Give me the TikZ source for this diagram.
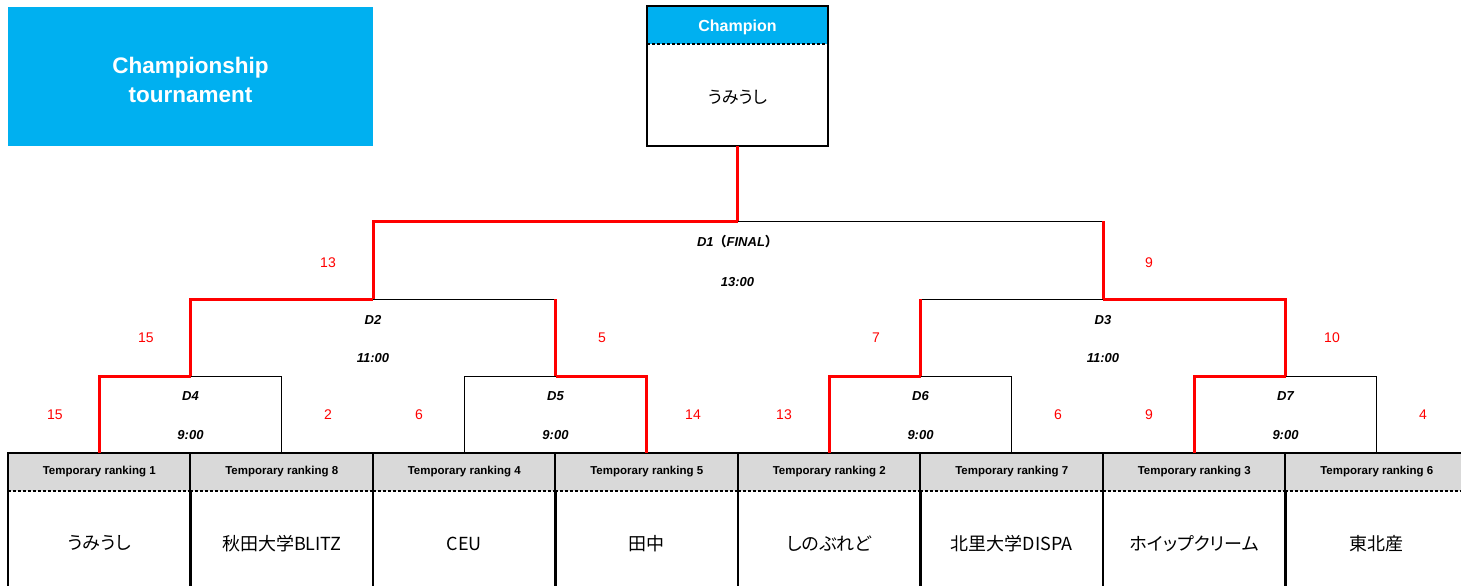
\documentclass[tikz,border=0pt]{standalone}
\usepackage{fontspec}
\setmainfont{Liberation Sans}
\newfontfamily\cjk[RawFeature=+palt]{Noto Sans CJK JP}
\newfontfamily\cjkw{Noto Sans CJK JP}
\definecolor{cyanhead}{HTML}{00B0F0}
\definecolor{grayhead}{HTML}{D9D9D9}
\definecolor{scorered}{HTML}{FF0000}
\tikzset{
  lose/.style={black, line width=1pt},
  win/.style={scorered, line width=3pt},
  titlebox/.style={fill=cyanhead, draw=none, minimum width=365pt, minimum height=139pt, inner sep=0pt},
  titletext/.style={inner sep=0pt, text=white, font=\fontsize{22.5}{29}\selectfont\bfseries, align=center},
  champhead/.style={fill=cyanhead, minimum width=181pt, minimum height=38pt, inner sep=0pt},
  champheadtext/.style={inner sep=0pt, text=white, font=\fontsize{16}{18}\selectfont\bfseries},
  champbody/.style={minimum width=181pt, minimum height=101pt, inner sep=0pt},
  champname/.style={inner sep=0pt, font=\cjk\fontsize{17}{19}\selectfont},
  teamhead/.style={fill=grayhead, minimum width=182.5pt, minimum height=38pt, inner sep=0pt, font=\fontsize{11.5}{13}\selectfont\bfseries},
  teambody/.style={minimum width=182.5pt, minimum height=104pt, inner sep=0pt, font=\cjk\fontsize{18}{20}\selectfont},
  border/.style={black, line width=2pt},
  sep/.style={black, line width=1.5pt, dash pattern=on 3pt off 2pt},
  matchlbl/.style={inner sep=0pt, font=\fontsize{13}{15}\selectfont\bfseries\itshape},
  score/.style={inner sep=0pt, text=scorered, font=\fontsize{14}{16}\selectfont},
}
\begin{document}
\begin{tikzpicture}[x=1pt,y=-1pt]
\useasboundingbox (0,0) rectangle (1461,586);
\clip (0,0) rectangle (1461,586);
% title
\node[titlebox] (title) at (190.5,76.5) {};
\node[titletext] (titleT) at (190.5,80) {Championship\\ tournament};
% champion
\node[champhead] (champH) at (737.5,25) {};
\node[champheadtext] (champHT) at (737.5,27.5) {Champion};
\node[champbody, anchor=north] (champB) at (champH.south) {};
\node[champname] (champN) at (737.5,97) {うみうし};
\draw[sep] (champH.south west) -- (champH.south east);
\draw[border] (champH.north west) rectangle (champB.south east);
% teams
\foreach \i/\r/\n in {1/1/うみうし, 2/8/秋田大学BLITZ, 3/4/CEU, 4/5/田中, 5/2/しのぶれど, 6/7/北里大学DISPA, 7/3/ホイップクリーム, 8/6/東北産}{
  \node[teamhead] (h\i) at ({8+182.5*(\i-0.5)},472) {Temporary ranking \r};
  \node[teambody, anchor=north] (n\i) at (h\i.south) {\n};
  \draw[sep] (h\i.south west) -- (h\i.south east);
  \draw[border] (h\i.north west) rectangle (n\i.south east);
}
% junctions
\coordinate (m1) at (737.5,221);
\coordinate (m2) at (373,299);
\coordinate (m3) at (1103,299);
\coordinate (m4) at (190.5,376);
\coordinate (m5) at (555.5,376);
\coordinate (m6) at (920.5,376);
\coordinate (m7) at (1285.5,376);
% losing branches
\draw[lose] (m4) -| (h2.north);
\draw[lose] (m5) -| (h3.north);
\draw[lose] (m6) -| (h6.north);
\draw[lose] (m7) -| (h8.north);
\draw[lose] (m2) -- (m2 -| m5);
\draw[lose] (m3) -- (m3 -| m6);
\draw[lose] (m1) -- (m1 -| m3);
% winning branches
\draw[win] (h1.north) |- (m4);
\draw[win] (m4) |- (m2);
\draw[win] (h4.north) |- (m5);
\draw[win] (m5) -- (m5 |- m2);
\draw[win] (h5.north) |- (m6);
\draw[win] (m6) -- (m6 |- m3);
\draw[win] (h7.north) |- (m7);
\draw[win] (m7) |- (m3);
\draw[win] (m2) |- (m1);
\draw[win] (m3) -- (m3 |- m1);
\draw[win] (m1) -- (champB.south);
% match labels
\node[matchlbl] (d1) at (737.5,242) {D1{\cjkw（}FINAL{\cjkw）}};
\node[matchlbl] (d1t) at (737.5,282) {13:00};
\node[matchlbl] (d2) at (373,320) {D2};
\node[matchlbl] (d2t) at (373,358) {11:00};
\node[matchlbl] (d3) at (1103,320) {D3};
\node[matchlbl] (d3t) at (1103,358) {11:00};
\node[matchlbl] (d4) at (190.5,396) {D4};
\node[matchlbl] (d4t) at (190.5,435) {9:00};
\node[matchlbl] (d5) at (555.5,396) {D5};
\node[matchlbl] (d5t) at (555.5,435) {9:00};
\node[matchlbl] (d6) at (920.5,396) {D6};
\node[matchlbl] (d6t) at (920.5,435) {9:00};
\node[matchlbl] (d7) at (1285.5,396) {D7};
\node[matchlbl] (d7t) at (1285.5,435) {9:00};
% scores
\node[score] (s1l) at (328,263) {13};
\node[score] (s1r) at (1149,263) {9};
\node[score] (s2l) at (146,338) {15};
\node[score] (s2r) at (602,338) {5};
\node[score] (s3l) at (876,338) {7};
\node[score] (s3r) at (1332,338) {10};
\node[score] (s4l) at (55,415) {15};
\node[score] (s4r) at (328,415) {2};
\node[score] (s5l) at (419,415) {6};
\node[score] (s5r) at (693,415) {14};
\node[score] (s6l) at (784,415) {13};
\node[score] (s6r) at (1058,415) {6};
\node[score] (s7l) at (1149,415) {9};
\node[score] (s7r) at (1423,415) {4};
\end{tikzpicture}
\end{document}
